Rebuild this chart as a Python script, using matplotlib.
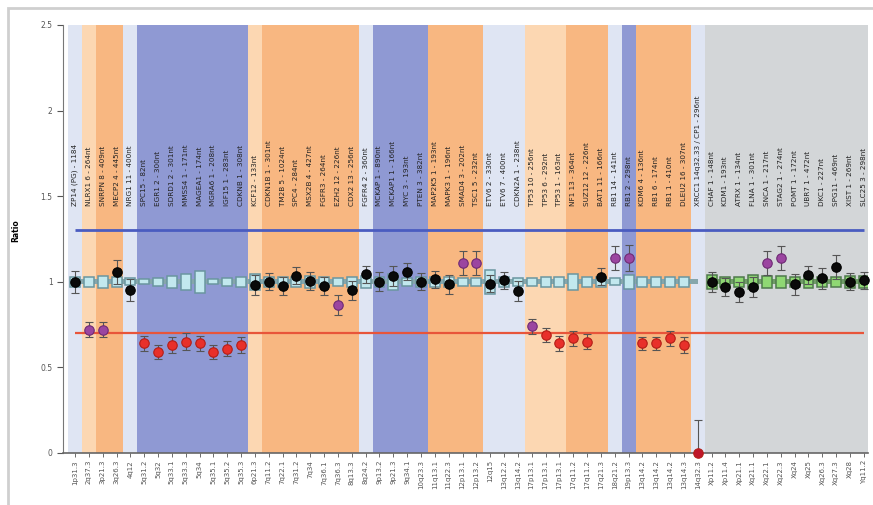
"""MLPA-style probe ratio chart: per-probe ratio with reference boxes and regions."""

import matplotlib

matplotlib.use("Agg")

import matplotlib.pyplot as plt  # noqa: E402
from matplotlib.patches import Rectangle  # noqa: E402

# ---------------------------------------------------------------------------
# Data
# ---------------------------------------------------------------------------

probe_labels = [
    "ZP14 (PG) - 1184", "NLRX1 6 - 264nt", "SNRPN 8 - 409nt", "MECP2 4 - 445nt",
    "NRG1 11 - 400nt", "SPC15 - 82nt", "EGR1 2 - 300nt", "SDRD1 2 - 301nt",
    "MMSS4 1 - 171nt", "MAGEA1 - 174nt", "MGRA6 1 - 208nt", "IGF15 1 - 283nt",
    "CDKNB 1 - 308nt", "KCF12 - 133nt", "CDKN1B 1 - 301nt", "TM2B 5 - 1024nt",
    "SPC4 - 284nt", "MSX2B 4 - 427nt", "FGFR3 - 264nt", "EZH2 12 - 226nt",
    "CDX2 13 - 256nt", "FGFR4 2 - 360nt", "MCKAP 1 - 890nt", "MCKAP1 1 - 166nt",
    "MYC 3 - 193nt", "PTEN 3 - 382nt", "MAP2K5 1 - 193nt", "MAPK3 1 - 196nt",
    "SMAD4 3 - 202nt", "TSC1 5 - 232nt", "ETV6 2 - 330nt", "ETV6 7 - 400nt",
    "CDKN2A 1 - 238nt", "TP53 10 - 256nt", "TP53 6 - 292nt", "TP53 1 - 163nt",
    "NF1 13 - 364nt", "SUZ12 12 - 226nt", "BAT1 11 - 166nt", "RB1 14 - 141nt",
    "RB1 2 - 298nt", "KDM6 4 - 136nt", "RB1 6 - 174nt", "RB1 1 - 410nt",
    "DLEU2 16 - 307nt", "XRCC1 14q32.33 / CP1 - 296nt", "CHAF 1 - 148nt", "KDM1 - 193nt",
    "ATRX 1 - 134nt", "FLNA 1 - 301nt", "SNCA 1 - 217nt", "STAG2 1 - 274nt",
    "POMT 1 - 172nt", "UBR7 1 - 472nt", "DKC1 - 227nt", "SPG11 - 469nt",
    "XIST 1 - 269nt", "SLC25 3 - 298nt",
]

band_labels = [
    "1p31.3", "2q37.3", "3p21.3", "3q26.3", "4q12", "5q31.2", "5q32", "5q33.1",
    "5q33.3", "5q34", "5q35.1", "5q35.2", "5q35.3", "6p21.3", "7q11.2", "7q22.1",
    "7q31.2", "7q34", "7q36.1", "7q36.3", "8q13.3", "8q24.2", "9p13.2", "9p21.3",
    "9q34.1", "10q23.3", "11q13.1", "11q22.3", "12p13.1", "12p13.2", "12q15", "13q12.2",
    "13q14.2", "17p13.1", "17p13.1", "17p13.1", "17q11.2", "17q11.2", "17q21.3", "18q21.2",
    "19p13.3", "13q14.2", "13q14.2", "13q14.2", "13q14.3", "14q32.3", "Xp11.2", "Xp11.4",
    "Xp21.1", "Xq21.1", "Xq22.1", "Xq22.3", "Xq24", "Xq25", "Xq26.3", "Xq27.3",
    "Xq28", "Yq11.2",
]

# region of each probe: lb light blue, lo light orange, o orange, b blue, g grey
regions = (
    ["lb", "lo", "o", "o", "lb"] + ["b"] * 8 + ["lo"] + ["o"] * 7 + ["lb"]
    + ["b"] * 4 + ["o"] * 4 + ["lb"] * 3 + ["lo"] * 3 + ["o"] * 3
    + ["lb", "b"] + ["o"] * 4 + ["lb"] + ["g"] * 12
)

ratios = [
    1.00, 0.72, 0.72, 1.06, 0.95, 0.64, 0.59, 0.63, 0.65, 0.64, 0.59, 0.61,
    0.63, 0.98, 1.00, 0.975, 1.035, 1.005, 0.975, 0.865, 0.95, 1.045, 1.00, 1.035,
    1.06, 1.00, 1.015, 0.985, 1.11, 1.11, 0.99, 1.01, 0.945, 0.74, 0.69, 0.64,
    0.67, 0.65, 1.03, 1.14, 1.14, 0.64, 0.64, 0.67, 0.63, 0.00, 1.00, 0.97,
    0.94, 0.97, 1.11, 1.14, 0.985, 1.04, 1.02, 1.085, 1.00, 1.01,
]

errors = [
    0.065, 0.045, 0.045, 0.07, 0.065, 0.045, 0.04, 0.045, 0.05, 0.045, 0.04, 0.045,
    0.045, 0.06, 0.05, 0.055, 0.05, 0.05, 0.055, 0.06, 0.055, 0.05, 0.055, 0.06,
    0.05, 0.05, 0.05, 0.055, 0.07, 0.07, 0.05, 0.05, 0.06, 0.045, 0.04, 0.045,
    0.045, 0.045, 0.05, 0.07, 0.075, 0.04, 0.04, 0.045, 0.045, 0.19, 0.06, 0.055,
    0.06, 0.06, 0.07, 0.07, 0.06, 0.055, 0.06, 0.07, 0.05, 0.05,
]

box_half = [
    0.03, 0.03, 0.035, 0.03, 0.02, 0.015, 0.025, 0.035, 0.045, 0.065, 0.015, 0.025,
    0.03, 0.045, 0.03, 0.03, 0.03, 0.035, 0.03, 0.025, 0.03, 0.035, 0.03, 0.045,
    0.025, 0.03, 0.03, 0.03, 0.025, 0.025, 0.07, 0.03, 0.025, 0.025, 0.03, 0.03,
    0.045, 0.03, 0.03, 0.02, 0.04, 0.03, 0.03, 0.03, 0.03, 0.0, 0.04, 0.03,
    0.03, 0.04, 0.035, 0.035, 0.03, 0.035, 0.03, 0.03, 0.035, 0.035,
]

# k = normal, r = deletion, p = borderline
status = (
    ["k", "p", "p", "k", "k"] + ["r"] * 8 + ["k"] * 6 + ["p"] + ["k"] * 8
    + ["p", "p", "k", "k", "k", "p"] + ["r"] * 4 + ["k", "p", "p"] + ["r"] * 5
    + ["k"] * 4 + ["p", "p"] + ["k"] * 6
)

upper_limit = 1.3
lower_limit = 0.7

# ---------------------------------------------------------------------------
# Styles
# ---------------------------------------------------------------------------

REGION_COLORS = {
    "lb": "#dfe5f3",
    "lo": "#fcd7b2",
    "o": "#f8b781",
    "b": "#8f99d3",
    "g": "#d3d6d8",
}
DOT_FACE = {"k": "#0a0a0a", "r": "#e8302a", "p": "#9b45a0"}
DOT_EDGE = {"k": "#000000", "r": "#b31e17", "p": "#6e2a74"}

fig = plt.figure(figsize=(8.73, 5.05), dpi=100)
ax = fig.add_axes([63 / 873, 1 - 453 / 505, 805 / 873, 428 / 505])

n = len(ratios)
xs = list(range(n))

# background region bands (merge consecutive runs)
start = 0
for i in range(1, n + 1):
    if i == n or regions[i] != regions[start]:
        ax.axvspan(start - 0.5, i - 0.5, color=REGION_COLORS[regions[start]],
                   lw=0, zorder=0)
        start = i

# threshold lines
ax.hlines(upper_limit, 0, n - 1, color="#4a5cc0", lw=2.0, zorder=2)
ax.hlines(lower_limit, 0, n - 1, color="#e8553a", lw=1.6, zorder=2)

# reference band around 1
grey_start = regions.index("g")
ax.add_patch(Rectangle((0, 0.985), grey_start - 1, 0.03, facecolor="#86a6ab",
                       edgecolor="none", zorder=3))
ax.add_patch(Rectangle((grey_start, 0.985), n - 1 - grey_start, 0.03,
                       facecolor="#6f9c67", edgecolor="none", zorder=3))

# reference boxes
for x, h, reg in zip(xs, box_half, regions):
    if h <= 0:
        continue
    if reg == "g":
        face, edge = "#8fd873", "#4f7a4c"
    else:
        face, edge = "#c2e8ee", "#6a96a0"
    ax.add_patch(Rectangle((x - 0.36, 1 - h), 0.72, 2 * h, facecolor=face,
                           edgecolor=edge, lw=1.1, zorder=4))

# sample ratios with error bars
for x, r, e, s in zip(xs, ratios, errors, status):
    lo = 0 if r - e < 0 else e
    ax.errorbar(x, r, yerr=[[lo], [e]], fmt="none", ecolor="#555555",
                elinewidth=0.8, capsize=3, capthick=0.8, zorder=5)
    face = "#c0162a" if r == 0 else DOT_FACE[s]
    ax.plot(x, r, "o", ms=6.8, mfc=face, mec=DOT_EDGE[s], mew=0.8, zorder=6,
            clip_on=False)

# probe name labels
for x, lab in zip(xs, probe_labels):
    ax.text(x, 1.44, lab, rotation=90, ha="center", va="bottom",
            fontsize=5.2, color="#222222", zorder=7)

ax.set_xlim(-0.87, n - 0.7)
ax.set_ylim(0, 2.5)
ax.set_yticks([0, 0.5, 1, 1.5, 2, 2.5])
ax.set_yticklabels(["0", "0.5", "1", "1.5", "2", "2.5"])
ax.set_xticks(xs)
ax.set_xticklabels(band_labels, rotation=90, fontsize=5.0, color="#444444")
ax.tick_params(axis="y", labelsize=5.5, colors="#555555", length=4, width=0.8)
ax.tick_params(axis="x", length=3, width=0.6, colors="#555555", pad=2)
ax.set_ylabel("Ratio", fontsize=5.5, fontweight="bold")
ax.yaxis.set_label_coords(-0.053, 0.52)

for side in ("top", "right"):
    ax.spines[side].set_visible(False)
ax.spines["left"].set_color("#777777")
ax.spines["bottom"].set_color("#666666")
ax.spines["bottom"].set_linewidth(1.2)

# light frame around the figure
fig.patches.append(Rectangle((8 / 873, -0.01), 1.0, 1 - 8 / 505 + 0.01,
                             transform=fig.transFigure, fill=False,
                             edgecolor="#cfcfcf", lw=2.0))

fig.savefig("out.png", dpi=100)
